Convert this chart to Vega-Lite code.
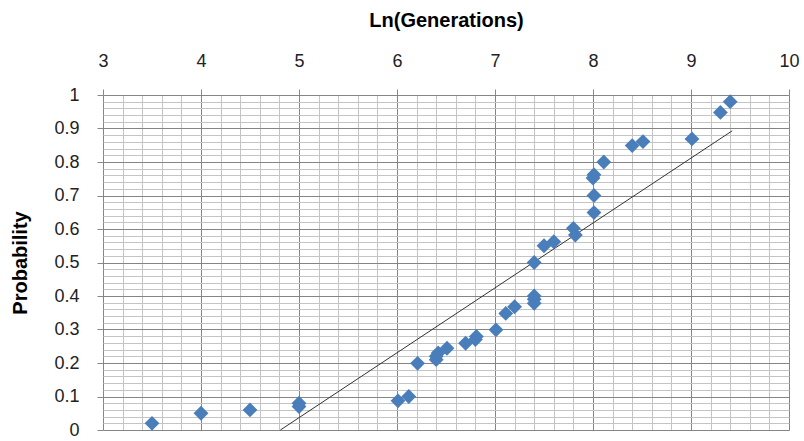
{
  "$schema": "https://vega.github.io/schema/vega-lite/v6.json",
  "autosize": {"type": "none"},
  "width": 686,
  "height": 335,
  "padding": {"left": 103, "top": 95, "right": 15, "bottom": 11},
  "background": "white",
  "config": {
    "view": {"stroke": null},
    "font": "Liberation Sans"
  },
  "datasets": {
    "points": [
      {"x": 3.5, "y": 0.02},
      {"x": 4.0, "y": 0.05},
      {"x": 4.5, "y": 0.06},
      {"x": 5.0, "y": 0.07},
      {"x": 5.0, "y": 0.08},
      {"x": 6.01, "y": 0.087},
      {"x": 6.12, "y": 0.10},
      {"x": 6.21, "y": 0.199},
      {"x": 6.4, "y": 0.21},
      {"x": 6.4, "y": 0.22},
      {"x": 6.42, "y": 0.23},
      {"x": 6.51, "y": 0.244},
      {"x": 6.7, "y": 0.259},
      {"x": 6.8, "y": 0.27},
      {"x": 6.81, "y": 0.279},
      {"x": 7.01, "y": 0.299},
      {"x": 7.11, "y": 0.348},
      {"x": 7.2, "y": 0.368},
      {"x": 7.4, "y": 0.378},
      {"x": 7.4, "y": 0.39},
      {"x": 7.4, "y": 0.4},
      {"x": 7.4, "y": 0.50},
      {"x": 7.5, "y": 0.55},
      {"x": 7.6, "y": 0.562},
      {"x": 7.82, "y": 0.582},
      {"x": 7.8, "y": 0.602},
      {"x": 8.01, "y": 0.649},
      {"x": 8.01, "y": 0.70},
      {"x": 8.0, "y": 0.752},
      {"x": 8.01, "y": 0.762},
      {"x": 8.11, "y": 0.80},
      {"x": 8.4, "y": 0.849},
      {"x": 8.51, "y": 0.861},
      {"x": 9.01, "y": 0.869},
      {"x": 9.3, "y": 0.948},
      {"x": 9.4, "y": 0.98}
    ],
    "fit": [
      {"x": 4.81, "y": 0.0},
      {"x": 9.42, "y": 0.893}
    ]
  },
  "layer": [
    {
      "data": {"name": "fit"},
      "mark": {"type": "line", "color": "#333333", "strokeWidth": 1},
      "encoding": {
        "x": {"field": "x", "type": "quantitative"},
        "y": {"field": "y", "type": "quantitative"}
      }
    },
    {
      "data": {"name": "points"},
      "mark": {"type": "point", "shape": "diamond", "filled": true, "color": "#4a7ebb", "opacity": 1, "size": 220},
      "encoding": {
        "x": {
          "field": "x",
          "type": "quantitative",
          "scale": {"domain": [3, 10], "nice": false, "zero": false},
          "axis": {
            "orient": "top",
            "title": "Ln(Generations)",
            "titleFontSize": 20,
            "titleFontWeight": "bold",
            "titleColor": "#000000",
            "titlePadding": 22,
            "tickCount": 200,
            "values": [3, 3.2, 3.4, 3.6, 3.8, 4, 4.2, 4.4, 4.6, 4.8, 5, 5.2, 5.4, 5.6, 5.8, 6, 6.2, 6.4, 6.6, 6.8, 7, 7.2, 7.4, 7.6, 7.8, 8, 8.2, 8.4, 8.6, 8.8, 9, 9.2, 9.4, 9.6, 9.8, 10],
            "labelExpr": "abs(datum.value - round(datum.value)) < 0.001 ? format(datum.value, 'd') : ''",
            "labelFontSize": 18,
            "labelColor": "#222222",
            "labelPadding": 19,
            "labelFlush": false,
            "labelOverlap": false,
            "domain": false,
            "tickSize": 6,
            "tickColor": "#888888",
            "tickOpacity": {"condition": {"test": "abs(datum.value - round(datum.value)) < 0.001", "value": 1}, "value": 0},
            "grid": true,
            "gridColor": {"condition": {"test": "abs(datum.value - round(datum.value)) < 0.001", "value": "#858585"}, "value": "#c4c4c4"},
            "gridWidth": 1,
            "gridOpacity": 1
          }
        },
        "y": {
          "field": "y",
          "type": "quantitative",
          "scale": {"domain": [0, 1], "nice": false},
          "axis": {
            "title": "Probability",
            "titleFontSize": 20,
            "titleFontWeight": "bold",
            "titleColor": "#000000",
            "titlePadding": 23,
            "tickCount": 200,
            "values": [0, 0.02, 0.04, 0.06, 0.08, 0.1, 0.12, 0.14, 0.16, 0.18, 0.2, 0.22, 0.24, 0.26, 0.28, 0.3, 0.32, 0.34, 0.36, 0.38, 0.4, 0.42, 0.44, 0.46, 0.48, 0.5, 0.52, 0.54, 0.56, 0.58, 0.6, 0.62, 0.64, 0.66, 0.68, 0.7, 0.72, 0.74, 0.76, 0.78, 0.8, 0.82, 0.84, 0.86, 0.88, 0.9, 0.92, 0.94, 0.96, 0.98, 1],
            "labelExpr": "abs(datum.value * 10 - round(datum.value * 10)) < 0.001 ? format(datum.value, '.1~f') : ''",
            "labelFontSize": 18,
            "labelColor": "#222222",
            "labelPadding": 18,
            "labelFlush": false,
            "labelOverlap": false,
            "domain": false,
            "tickSize": 6,
            "tickColor": "#888888",
            "tickOpacity": {"condition": {"test": "abs(datum.value * 10 - round(datum.value * 10)) < 0.001", "value": 1}, "value": 0},
            "grid": true,
            "gridColor": {"condition": {"test": "abs(datum.value * 10 - round(datum.value * 10)) < 0.001", "value": "#858585"}, "value": "#c4c4c4"},
            "gridWidth": 1,
            "gridOpacity": 1
          }
        }
      }
    }
  ]
}
